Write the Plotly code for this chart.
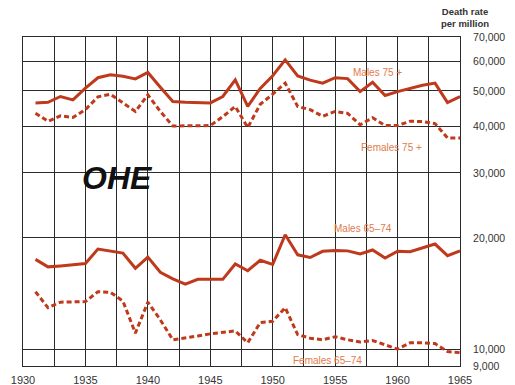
import math
import plotly.graph_objects as go

# Death rates per million, England & Wales, 1931-1965
years = list(range(1931, 1966))

males_75_plus = [46400, 46600, 48300, 47300, 50900, 54300, 55300, 54800, 53900, 56100,
                 51200, 46800, 46600, 46500, 46400, 48300, 53600, 45400, 50800, 55000,
                 60700, 54900, 53500, 52500, 54300, 54000, 49800, 52800, 48600, 49800,
                 50900, 51800, 52500, 46500, 48300]

females_75_plus = [43500, 41400, 42800, 42400, 44500, 48200, 49000, 46500, 44000, 48800,
                   44000, 40200, 40200, 40200, 40300, 42600, 45400, 39800, 46000, 49000,
                   52500, 45400, 44500, 42700, 44000, 43500, 40500, 42300, 40300, 40300,
                   41400, 41300, 40800, 37300, 37300]

males_65_74 = [17500, 16700, 16800, 16950, 17050, 18650, 18450, 18200, 16550, 17750,
               16150, 15500, 15000, 15450, 15450, 15450, 17000, 16300, 17400, 16950,
               20400, 18000, 17700, 18400, 18500, 18450, 18100, 18550, 17650, 18400,
               18350, 18800, 19250, 17900, 18450]

females_65_74 = [14300, 12950, 13400, 13450, 13450, 14300, 14250, 13500, 11050, 13400,
                 12000, 10600, 10700, 10850, 11000, 11100, 11200, 10400, 11800, 11900,
                 12950, 10950, 10700, 10600, 10800, 10600, 10450, 10550, 10250, 10000,
                 10400, 10400, 10350, 9850, 9780]

y_tick_values = [9000, 10000, 20000, 30000, 40000, 50000, 60000, 70000]
y_tick_labels = ["9,000", "10,000", "20,000", "30,000", "40,000", "50,000", "60,000", "70,000"]

LINE = "#bf3a1c"
LABEL = "#e27a4a"
GRID = "#2b2b2b"
FONT = "Liberation Sans"

fig = go.Figure()
solid = dict(color=LINE, width=3)
dashed = dict(color=LINE, width=3, dash="5px,3px")

fig.add_trace(go.Scatter(x=years, y=males_75_plus, mode="lines", line=solid, name="Males 75 +"))
fig.add_trace(go.Scatter(x=years, y=females_75_plus, mode="lines", line=dashed, name="Females 75 +"))
fig.add_trace(go.Scatter(x=years, y=males_65_74, mode="lines", line=solid, name="Males 65–74"))
fig.add_trace(go.Scatter(x=years, y=females_65_74, mode="lines", line=dashed, name="Females 65–74"))

# series labels placed beside their lines
series_labels = [
    ("Males 75 +", 1958.4, 56200),
    ("Females 75 +", 1959.5, 35200),
    ("Males 65–74", 1957.2, 21250),
    ("Females 65–74", 1954.4, 9330),
]
for text, lx, ly in series_labels:
    fig.add_annotation(x=lx, y=math.log10(ly), xref="x", yref="y", text=text,
                       showarrow=False, font=dict(family=FONT, size=10, color=LABEL))

# publisher mark
fig.add_annotation(x=0.13, y=0.571, xref="paper", yref="paper",
                   text="<b><i>OHE</i></b>", showarrow=False,
                   font=dict(family=FONT, size=32, color="#111111"))

# axis title above the right-hand scale
fig.add_annotation(x=1.07, y=1.1, xref="paper", yref="paper", yanchor="top",
                   text="<b>Death rate<br>per million</b>", showarrow=False,
                   font=dict(family=FONT, size=9.5, color="#333333"))

fig.update_layout(
    width=515, height=385,
    margin=dict(l=23, r=55, t=37, b=19),
    paper_bgcolor="white", plot_bgcolor="white",
    showlegend=False,
    font=dict(family=FONT, color="#333333"),
)
fig.update_xaxes(
    range=[1930, 1965], tick0=1930, dtick=5, automargin=False,
    showgrid=True, gridcolor=GRID, gridwidth=1,
    minor=dict(dtick=2.5, tick0=1930, showgrid=True, gridcolor=GRID, gridwidth=1),
    showline=True, linecolor=GRID, linewidth=1, mirror=True,
    ticks="", zeroline=False, ticklabelstandoff=4,
    tickfont=dict(family=FONT, size=11, color="#333333"),
)
fig.update_yaxes(
    type="log", range=[math.log10(9000), math.log10(70000)], automargin=False,
    tickvals=y_tick_values, ticktext=y_tick_labels, side="right",
    showgrid=True, gridcolor=GRID, gridwidth=1,
    showline=True, linecolor=GRID, linewidth=1, mirror=True,
    ticks="", zeroline=False, ticklabelstandoff=10,
    tickfont=dict(family=FONT, size=10.5, color="#333333"),
)

fig.write_html("out.html")
